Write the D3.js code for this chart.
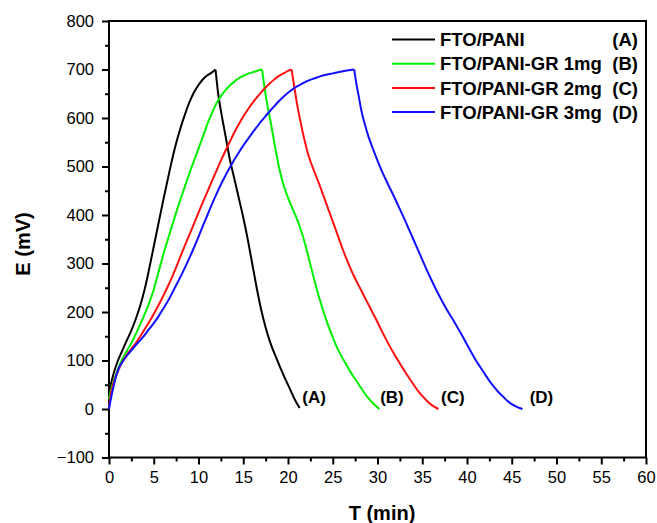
<!DOCTYPE html>
<html>
<head>
<meta charset="utf-8">
<script src="https://cdn.jsdelivr.net/npm/d3@7"></script>
<style>
body{margin:0;background:#fff;}
text{font-family:"Liberation Sans",Arial,sans-serif;}
</style>
</head>
<body>
<script>
// data: time (min), potential (mV)
const timeA=[0,0.2,0.5,1.0,1.5,2.0,2.5,3.0,3.5,4.0,4.5,5.0,5.5,6.0,6.5,7.0,7.5,8.0,8.5,9.0,9.5,10.0,10.5,11.0,11.5,11.9,
  12.2,12.6,13.0,13.5,14.0,14.5,15.0,15.5,16.0,16.5,17.0,17.5,18.0,18.7,19.5,20.2,20.8,21.3]
const voltA=[30,50,72,100,121,142,162,186,214,248,290,335,380,425,468,510,548,580,608,633,653,668,680,688,694,700,
  650,605,565,515,475,435,395,350,300,250,205,168,138,105,70,42,18,2]

const timeB=[0,0.3,0.7,1.4,2.0,2.5,3.0,3.5,4.0,4.5,5.0,5.5,6.0,6.5,7.0,7.5,8.0,8.5,9.0,9.5,10.0,10.5,11.0,11.5,12.0,12.5,13.0,13.5,14.0,14.5,15.0,15.5,16.0,16.5,17.1,
  17.4,17.7,18.0,18.5,19.0,19.5,20.0,20.5,21.0,21.5,22.0,22.5,23.0,23.5,24.0,24.5,25.0,25.5,26.0,26.5,27.0,27.5,28.0,28.5,29.0,29.5,30.2]
const voltB=[20,45,67,100,120,136,155,175,196,219,246,280,314,345,375,405,433,460,487,512,537,562,588,610,630,645,657,667,675,682,687,691,694,697,700,
  660,626,598,546,498,462,436,413,392,366,334,298,262,229,199,172,148,126,108,92,76,62,48,34,22,12,0]

const timeC=[0,0.3,0.9,1.5,2.0,2.5,3.0,3.5,4.0,4.5,5.0,5.5,6.0,6.5,7.0,7.5,8.0,8.5,9.0,9.5,10.0,10.5,11.0,11.5,12.0,12.5,13.0,13.5,14.0,14.5,15.0,15.5,16.0,16.5,17.0,17.5,18.0,18.5,19.0,19.5,20.0,20.4,
  20.7,21.0,21.4,21.8,22.3,23.0,23.5,24.0,24.5,25.0,25.5,26.0,26.5,27.0,27.5,28.0,28.5,29.0,29.5,30.0,30.5,31.0,31.5,32.0,32.5,33.0,33.5,34.0,34.5,35.0,35.5,36.0,36.8]
const voltC=[5,39,73,98,112,124,136,150,165,180,196,213,231,250,270,292,315,338,360,382,405,427,448,470,491,512,532,551,570,587,603,617,630,642,653,663,672,680,687,692,697,700,
  665,630,592,558,522,487,463,438,412,387,361,335,311,289,269,251,233,215,197,179,160,142,125,109,94,79,65,51,38,27,17,9,0]

const timeD=[0,0.2,0.5,1.0,1.5,2.0,2.5,3.0,3.5,4.0,4.5,5.0,5.5,6.0,6.5,7.0,7.5,8.0,8.5,9.0,9.5,10.0,10.5,11.0,11.5,12.0,12.5,13.0,13.5,14.0,14.5,15.0,15.5,16.0,16.5,17.0,17.5,18.0,18.5,19.0,19.5,20.0,20.5,21.0,21.5,22.0,23.0,24.0,25.0,26.0,27.4,
  27.6,27.9,28.2,28.6,29.0,29.5,30.0,30.5,31.0,31.5,32.0,32.5,33.0,33.5,34.0,34.5,35.0,35.5,36.0,36.5,37.0,37.5,38.0,38.5,39.0,39.5,40.0,40.5,41.0,41.5,42.0,42.5,43.0,43.5,44.0,44.5,45.0,45.5,46.2]
const voltD=[0,20,46,80,97,110,121,132,142,153,165,177,190,205,220,237,255,273,292,312,333,355,378,400,422,443,463,481,498,514,529,543,556,569,581,593,604,615,625,635,644,652,659,665,670,675,682,688,692,696,700,
  675,645,615,586,561,536,512,490,470,451,432,412,392,371,350,329,308,287,267,248,230,213,197,182,166,150,133,116,100,86,72,58,46,35,26,17,10,5,0]

const series=[
  {name:"FTO/PANI",tag:"(A)",color:"#000000",t:timeA,e:voltA},
  {name:"FTO/PANI-GR 1mg",tag:"(B)",color:"#00f000",t:timeB,e:voltB},
  {name:"FTO/PANI-GR 2mg",tag:"(C)",color:"#ff1010",t:timeC,e:voltC},
  {name:"FTO/PANI-GR 3mg",tag:"(D)",color:"#1010ff",t:timeD,e:voltD}
]
// labels at each curve foot
const endLabels=[{tag:"(A)",t:21.6},{tag:"(B)",t:30.3},{tag:"(C)",t:37.1},{tag:"(D)",t:47.0}]

const xTicks=d3.range(0,61,5)
const yTicks=d3.range(-100,801,100)

const w=657, h=523
const svg=d3.select("body").append("svg").attr("width",w).attr("height",h)

//scales
const x=d3.scaleLinear().domain([0,60]).range([109,646])
const y=d3.scaleLinear().domain([-100,800]).range([457.5,21])

//frame
svg.append("rect")
  .attr("x",x(0)).attr("y",y(800))
  .attr("width",x(60)-x(0)).attr("height",y(-100)-y(800))
  .attr("fill","none").attr("stroke","#000").attr("stroke-width",2)

//axes with minor ticks
svg.append("g").attr("transform","translate(0,"+y(-100)+")")
  .call(d3.axisBottom(x).tickValues(d3.range(2.5,60,5)).tickSize(4).tickFormat(""))
const xAxis=svg.append("g").attr("transform","translate(0,"+y(-100)+")")
  .call(d3.axisBottom(x).tickValues(xTicks).tickSize(7).tickPadding(4))
svg.append("g").attr("transform","translate("+x(0)+",0)")
  .call(d3.axisLeft(y).tickValues(d3.range(-50,800,100)).tickSize(4).tickFormat(""))
svg.append("g").attr("transform","translate("+x(0)+",0)")
  .call(d3.axisLeft(y).tickValues(yTicks).tickSize(7).tickPadding(8))

svg.selectAll(".domain").remove()
svg.selectAll(".tick line").attr("stroke","#000").attr("stroke-width",2)
svg.selectAll(".tick text").attr("fill","#000").style("font-size","16.5px")
  .style("font-family","'Liberation Sans',Arial,sans-serif")
xAxis.selectAll(".tick text").attr("dy","0.9em")

//curves: charge and discharge drawn apart so the peak stays sharp
const line=d3.line().x(d=>x(d[0])).y(d=>y(d[1])).curve(d3.curveMonotoneX)
series.forEach(s=>{
  const pts=s.t.map((t,i)=>[t,s.e[i]])
  const peak=d3.maxIndex(s.e)
  ;[pts.slice(0,peak+1),pts.slice(peak)].forEach(seg=>{
    svg.append("path").attr("d",line(seg))
      .attr("fill","none").attr("stroke",s.color).attr("stroke-width",2)
      .attr("stroke-linejoin","round")
  })
})

//curve foot labels
svg.selectAll(".endlab").data(endLabels).enter().append("text")
  .attr("class","endlab")
  .attr("x",d=>x(d.t)).attr("y",y(0)-6)
  .attr("font-size","17px").attr("font-weight","bold")
  .text(d=>d.tag)

//legend
const leg=svg.append("g")
series.forEach((s,i)=>{
  const yy=39.5+i*24.2
  leg.append("line").attr("x1",392).attr("x2",435).attr("y1",yy).attr("y2",yy)
    .attr("stroke",s.color).attr("stroke-width",2)
  leg.append("text").attr("x",440).attr("y",yy).attr("dy","0.36em")
    .attr("font-size","18.5px").attr("font-weight","bold").text(s.name)
  leg.append("text").attr("x",638).attr("y",yy).attr("dy","0.36em")
    .attr("text-anchor","end")
    .attr("font-size","18.5px").attr("font-weight","bold").text(s.tag)
})

//axis titles
svg.append("text").attr("x",382).attr("y",520)
  .attr("text-anchor","middle").attr("font-size","20px").attr("font-weight","bold")
  .text("T (min)")
svg.append("text").attr("transform","translate(30,244) rotate(-90)")
  .attr("text-anchor","middle").attr("font-size","20px").attr("font-weight","bold")
  .text("E (mV)")
</script>
</body>
</html>
